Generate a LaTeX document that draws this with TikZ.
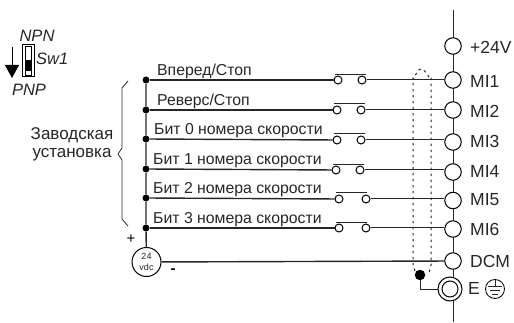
\documentclass[tikz,border=0pt]{standalone}
\usepackage{fontspec}
\setmainfont{Liberation Sans}
\usetikzlibrary{arrows.meta}
\tikzset{
  term/.style={circle, draw, fill=white, line width=1pt, minimum size=16.5pt, inner sep=0pt},
  contact/.style={circle, draw, fill=white, line width=1pt, minimum size=8pt, inner sep=0pt},
  junction/.style={circle, fill=black, minimum size=7pt, inner sep=0pt},
  wire/.style={line width=1pt, black!85},
  busline/.style={line width=1.4pt, black!85},
  tag/.style={font=\fontsize{17.5}{18}\selectfont, anchor=west, inner sep=0pt, text=black!85},
  inlabel/.style={font=\fontsize{15.8}{16}\selectfont, anchor=base west, inner sep=0pt, text=black!85},
  side/.style={font=\fontsize{16.5}{17}\selectfont\itshape, inner sep=0pt, text=black!85},
}
\begin{document}
\begin{tikzpicture}[x=1pt,y=-1pt]
      \useasboundingbox (0,0) rectangle (514,323);
      % rail
      \coordinate (top) at (453,10);
      \coordinate (bot) at (453,322);
      \draw[wire] (top) -- (bot);
      % terminals
      \node[term] (p24) at (453,46) {};
      \node[term] (mi1) at (453,80) {};
      \node[term] (mi2) at (453,110) {};
      \node[term] (mi3) at (453,142) {};
      \node[term] (mi4) at (453,172) {};
      \node[term] (mi5) at (453,200.5) {};
      \node[term] (mi6) at (453,229) {};
      \node[term] (dcm) at (453,261) {};
      \node[circle, draw, fill=white, line width=1pt, minimum size=24pt, inner sep=0pt] (eo) at (450,289) {};
      \node[circle, draw, fill=white, line width=1pt, minimum size=16pt, inner sep=0pt] (ei) at (450,289) {};
      \node[tag] at (470,47) {+24V};
      \node[tag] at (470,81) {MI1};
      \node[tag] at (470,111) {MI2};
      \node[tag] at (470,141) {MI3};
      \node[tag] at (470,171) {MI4};
      \node[tag] at (470,200) {MI5};
      \node[tag] at (470,229) {MI6};
      \node[tag] at (470,261) {DCM};
      \node[tag] at (468,288) {E};
      % earth mark
      \node[circle, draw, line width=.8pt, minimum size=19pt, inner sep=0pt] (gnd) at (495,289) {};
      \draw[wire] (495,280) -- (495,286);
      \draw[wire] (488,286) -- (502,286);
      \draw[wire] (490,290) -- (500,290);
      \draw[wire] (492,294) -- (498,294);
      % left bus
      \node[junction] (j1) at (146,80) {};
      \node[junction] (j2) at (146,110) {};
      \node[junction] (j3) at (146,139) {};
      \node[junction] (j4) at (146,169) {};
      \node[junction] (j5) at (146,198) {};
      \node[junction] (j6) at (146,228) {};
      \node[circle, draw, line width=1pt, minimum size=29pt, inner sep=0pt, align=center, font=\fontsize{9}{11.5}\selectfont, text=black!85] (vdc) at (146.5,262) {24\\vdc};
      \draw[busline] (j1) -- (j2) -- (j3) -- (j4) -- (j5) -- (j6) -- (vdc);
      % contacts
      \node[contact] (a1) at (338,80) {};
      \node[contact] (b1) at (362,80) {};
      \node[contact] (a2) at (337,110) {};
      \node[contact] (b2) at (361,110) {};
      \node[contact] (a3) at (337,140) {};
      \node[contact] (b3) at (361,140) {};
      \node[contact] (a4) at (336,170) {};
      \node[contact] (b4) at (360,170) {};
      \node[contact] (a5) at (339,199) {};
      \node[contact] (b5) at (366,199) {};
      \node[contact] (a6) at (339,228) {};
      \node[contact] (b6) at (366,228) {};
      % contact bars
      \draw[wire] (335,75) -- (366,75);
      \draw[wire] (334,104) -- (365,104);
      \draw[wire] (334,134) -- (365,134);
      \draw[wire] (333,165) -- (364,165);
      \draw[wire] (336,193) -- (367,193);
      \draw[wire] (336,223) -- (367,223);
      % wires
      \draw[busline] (j1) -- (a1);
      \draw[busline] (j2) -- (a2);
      \draw[busline] (j3) -- (a3);
      \draw[busline] (j4) -- (a4);
      \draw[busline] (j5) -- (a5);
      \draw[busline] (j6) -- (a6);
      \draw[wire] (b1) -- (mi1);
      \draw[wire] (b2) -- (mi2);
      \draw[wire] (b3) -- (mi3.west |- b3);
      \draw[wire] (b4) -- (mi4.west |- b4);
      \draw[wire] (b5) -- (mi5.west |- b5);
      \draw[wire] (b6) -- (mi6.west |- b6);
      \draw[busline] (vdc) -- (dcm);
      % labels of the inputs
      \node[inlabel] at (157,76) {Вперед/Стоп};
      \node[inlabel] at (157,106) {Реверс/Стоп};
      \node[inlabel] at (154,135) {Бит 0 номера скорости};
      \node[inlabel] at (153,165) {Бит 1 номера скорости};
      \node[inlabel] at (153,194) {Бит 2 номера скорости};
      \node[inlabel] at (153,224) {Бит 3 номера скорости};
      \node[font=\fontsize{15}{15}\selectfont, inner sep=0pt] at (131,239) {+};
      \node[font=\fontsize{15}{15}\bfseries, inner sep=0pt] at (173,271) {-};
      % shield
      \node[junction, minimum size=10.5pt] (sh) at (420,275) {};
      \coordinate (shc) at (420,289);
      \draw[wire] (sh) -- (shc) -- (eo);
      \draw[wire, dash pattern=on 2.5pt off 3.5pt] (415,271) -- (413,265) -- (413,78) to[out=-90,in=180] (421,69) to[out=0,in=-90] (431,78) -- (431,265) -- (429,273);
      % brace
      \draw[wire, line width=.8pt] (128,81) -- (122,88) -- (122,148) -- (118,154) -- (122,160) -- (122,219) -- (128,226);
      \node[font=\fontsize{17}{18}\selectfont, align=center, inner sep=0pt, text=black!85] (factory) at (72,144) {Заводская\\установка};
      % dip switch
      \node[side] (npn) at (37,36) {NPN};
      \node[side] (pnp) at (29,90) {PNP};
      \node[side, anchor=west] (sw1) at (36,59) {Sw1};
      \draw[line width=.6pt] (22.5,44.5) rectangle (34,76.5);
      \draw[line width=.6pt] (25,46) rectangle (31.5,75);
      \fill (25,60) rectangle (31.5,71);
      \coordinate (arra) at (12,47);
      \coordinate (arrb) at (12,78);
      \draw[line width=.9pt, -{Triangle[length=13pt,width=14pt]}] (arra) -- (arrb);
\end{tikzpicture}
\end{document}
